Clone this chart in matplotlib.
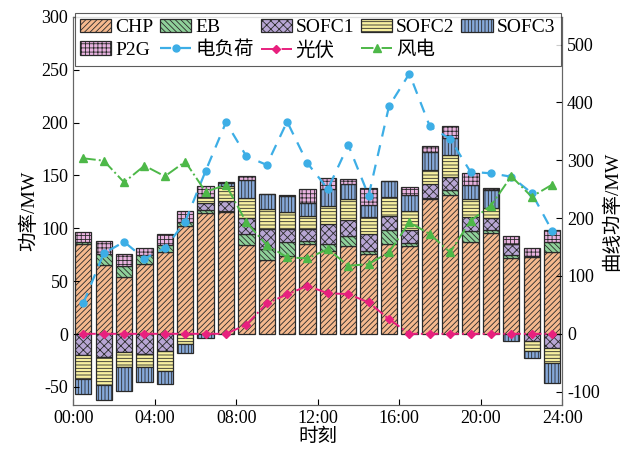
import numpy as np
import matplotlib
matplotlib.use('Agg')
import matplotlib.pyplot as plt

plt.rcParams['font.family'] = ['Liberation Serif', 'Noto Sans CJK SC']
plt.rcParams['hatch.linewidth'] = 0.6
plt.rcParams['axes.unicode_minus'] = False

# 24 个时段
hours = np.arange(24) + 0.5

chp = [85, 65.3, 54.4, 66.3, 77.5, 102.5, 114.5, 115, 84.7, 70, 73.7, 85.6,
       78.5, 83, 75.3, 85.3, 83.7, 128, 132, 86.8, 95.3, 72.4, 72.5, 78]
eb = [2, 10, 10, 8.4, 6.5, 3.8, 3, 1.5, 10, 10.7, 13, 2,
      7, 9.5, 3, 12.8, 2.5, 0.5, 4, 10.7, 3.1, 2.5, 1.8, 9.5]
sofc1 = [-20, -22, -17, -19, -16, 0, 6.5, 9, 15, 18.8, 13, 12,
         19, 15.7, 16.3, 13.2, 12, 13, 12.5, 13.5, 11, 10, -6.6, -13]
sofc2 = [-22, -25.7, -14, -12, -19, -9.5, 5.5, 15, 19, 18.8, 15.6, 12,
         16.5, 19.4, 16, 18.2, 18, 13.5, 20.4, 16.6, 9.4, 0, -9.4, -14]
sofc3 = [-15, -15, -23, -14, -12, -8.5, -3.7, 2, 17, 14.4, 15.5, 12,
         16.5, 14.4, 11.6, 15.4, 15.6, 17, 16.3, 13.2, 17.2, -7, -6.9, -19]
p2g = [10, 12.5, 11.6, 6.9, 10.7, 10, 10.5, 1, 4, 0, 0.8, 13.5,
       10.5, 4.7, 15.7, 0, 7, 5.5, 12, 11.9, 2, 7.8, 6.9, 11]

load = [53, 139, 159, 130, 148, 194, 281.5, 365.7, 307, 292, 366.8, 294.8,
        250.3, 326.5, 238.8, 393.4, 449.8, 358.8, 336.8, 280, 277.5, 271.6, 243.4, 178.2]
pv = [0, 0, 0, 0, 0, 0, 0, 0, 15.7, 52.6, 68, 83,
      70, 68.7, 54.3, 25.4, 0, 0, 0, 0, 0, 0, 0, 0]
wind = [303.4, 299.3, 261.9, 290.7, 272.3, 297.6, 245.7, 257.3, 192.7, 153.5, 132.2, 130.4,
        146.5, 117.6, 120.6, 140.8, 192.7, 172.5, 140.8, 195.5, 221.5, 272.3, 237, 257.8]

series = [('CHP', chp, '#F5B98E', '//////'),
          ('EB', eb, '#8FD19A', '\\\\\\\\\\\\'),
          ('SOFC1', sofc1, '#B8A6D4', 'xxxx'),
          ('SOFC2', sofc2, '#F7F0A0', '-----'),
          ('SOFC3', sofc3, '#86A9DA', '|||||'),
          ('P2G', p2g, '#E9B3E0', '++++')]

fig = plt.figure(figsize=(6.36, 4.55), dpi=100)
ax = fig.add_axes([0.115, 0.11, 0.769, 0.853])

pos = np.zeros(24)
neg = np.zeros(24)
handles = []
for name, vals, col, hat in series:
    v = np.array(vals, dtype=float)
    bottom = np.where(v >= 0, pos, neg)
    b = ax.bar(hours, v, 0.8, bottom=bottom, color=col, hatch=hat,
               edgecolor='#2a2a2a', linewidth=0.9, label=name)
    handles.append(b)
    pos = pos + np.where(v >= 0, v, 0)
    neg = neg + np.where(v < 0, v, 0)

ax.set_xlim(0, 24)
ax.set_ylim(-67, 300)
ax.set_xticks(range(0, 25, 4))
ax.set_xticklabels(['%02d:00' % h for h in range(0, 25, 4)])
ax.set_yticks(range(-50, 301, 50))
ax.tick_params(direction='in', labelsize=13, length=4)
ax.set_xlabel('时刻', fontsize=14, labelpad=1)
ax.set_ylabel('功率/MW', fontsize=14, labelpad=2)

ax2 = ax.twinx()
ax2.set_ylim(-123, 548)
ax2.set_yticks(range(-100, 501, 100))
ax2.tick_params(direction='in', labelsize=13, length=4)
ax2.set_ylabel('曲线功率/MW', fontsize=14, labelpad=2)

l1, = ax2.plot(hours, load, color='#3DAEE6', ls=(0, (5, 4)), lw=1.6,
               marker='o', ms=5, label='电负荷')
l2, = ax2.plot(hours, pv, color='#E8207E', ls='-.', lw=1.4,
               marker='D', ms=4, label='光伏')
l3, = ax2.plot(hours, wind, color='#4DB848', ls='-.', lw=1.4,
               marker='^', ms=6, label='风电')

for a in (ax, ax2):
    for s in a.spines.values():
        s.set_color('#666666')

# 列优先排列，使图例按行读
order = [handles[0], handles[5], handles[1], l1, handles[2], l2, handles[3], l3, handles[4]]
labels = [h.get_label() for h in order]
leg = ax2.legend(order, labels, ncol=5, loc='upper center', bbox_to_anchor=(0.5, 1.01),
                 fontsize=14, frameon=True, fancybox=False, edgecolor='#333333',
                 handlelength=1.6, handletextpad=0.2, columnspacing=0.35,
                 labelspacing=0.25, borderpad=0.3, borderaxespad=0.0)
leg.get_frame().set_linewidth(0.8)

fig.savefig('out.png', dpi=100)
